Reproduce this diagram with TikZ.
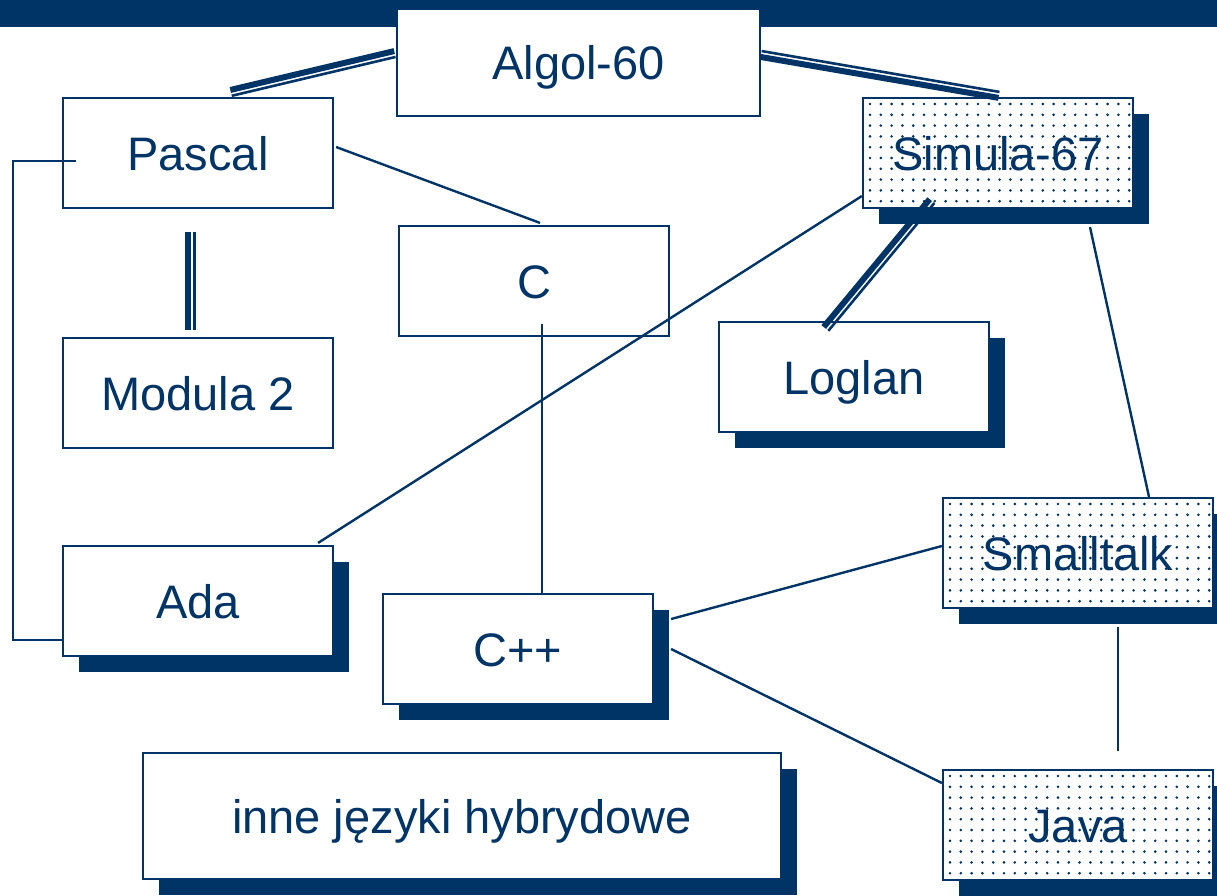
\documentclass[tikz,border=0pt]{standalone}
\usepackage{fontspec}
\setmainfont{Liberation Sans}
\usetikzlibrary{calc,shadows}
\definecolor{navy}{HTML}{003366}

% double connector: heavy rule on one side, light rule on the other
% #1,#2 end points, #3 signed offset of the heavy rule (positive = left of #1->#2)
\newcommand{\twinlink}[3]{%
  \draw[heavyrule] ($(#1)!#3!90:(#2)$) -- ($(#2)!#3!-90:(#1)$);
  \draw[lightrule] ($(#1)!-#3!90:(#2)$) -- ($(#2)!-#3!-90:(#1)$);
}

\begin{document}
\begin{tikzpicture}[x=1pt,y=-1pt,
  box/.style={draw=navy, line width=2.2pt, fill=white,
    minimum width=270pt, minimum height=110pt, inner sep=0pt,
    text=navy, font=\fontsize{47}{56}\selectfont,
    text height=34pt, text depth=0pt},
  castshadow/.style={drop shadow={shadow xshift=16pt, shadow yshift=-16pt,
    fill=navy, opacity=1}},
  dotgrid/.style={path picture={
    \foreach \i in {0,...,24}{\foreach \j in {0,...,9}{
      \fill[navy] ($(path picture bounding box.north west)+(7+10.8*\i,6+10.8*\j)$) circle (1.45pt);}}}},
  link/.style={draw=navy, line width=2.4pt},
  heavyrule/.style={draw=navy, line width=6pt},
  lightrule/.style={draw=navy, line width=2.6pt}]

\useasboundingbox (0,0) rectangle (1217,895);
\clip (0,0) rectangle (1217,895);

% title band
\fill[navy] (0,0) rectangle (1217,27);

% language boxes
\node[box, minimum width=363pt, minimum height=107pt] (algol) at (578.5,62.5) {Algol-60};
\node[box] (pascal) at (198,153) {Pascal};
\node[box] (c) at (534,281) {C};
\node[box] (modula) at (198,393) {Modula 2};
\node[box, castshadow, dotgrid] (simula) at (998,153) {Simula-67};
\node[box, castshadow] (loglan) at (854,377) {Loglan};
\node[box, castshadow] (ada) at (198,601) {Ada};
\node[box, castshadow] (cpp) at (518,649) {C++};
\node[box, castshadow, dotgrid] (smalltalk) at (1078,553) {Smalltalk};
\node[box, castshadow, dotgrid] (java) at (1078,825) {Java};
\node[box, castshadow, minimum width=638pt, minimum height=126pt] (other) at (462,816) {inne języki hybrydowe};

% end points of the double connectors
\coordinate (apP) at ($(pascal.north)+(33,-4)$);
\coordinate (apA) at ($(algol.west)+(-1,-8.5)$);
\coordinate (asA) at ($(algol.east)+(0,-8.5)$);
\coordinate (asS) at ($(simula.north)+(1,-2)$);
\coordinate (slS) at ($(simula.south)+(-66,-8)$);
\coordinate (slL) at ($(loglan.north)+(-28,8)$);
\coordinate (pmP) at ($(pascal.south)+(-7,23)$);
\coordinate (pmM) at ($(modula.north)+(-7,-7)$);

\twinlink{apP}{apA}{3pt}
\twinlink{asA}{asS}{-3pt}
\twinlink{slS}{slL}{-3pt}
\twinlink{pmP}{pmM}{-3.5pt}

% single connectors
\draw[link] ($(pascal.east)+(2,-6)$) -- ($(c.north)+(6,-2)$);
\draw[link] ($(simula.west)+(0,43)$) -- ($(ada.north east)+(-16,-2)$);
\draw[link] ($(simula.south)+(92,18)$) -- ($(smalltalk.north)+(71,0)$);
\draw[link] ($(c.south)+(8,-13)$) -- ($(cpp.north)+(24,0)$);
\draw[link] ($(smalltalk.west)+(0,-7)$) -- ($(cpp.east)+(17,-30)$);
\draw[link] ($(cpp.east)+(17,0)$) -- ($(java.west)+(0,-42)$);
\draw[link] ($(smalltalk.south)+(40,18)$) -- ($(java.north)+(40,-18)$);
\draw[link] ($(pascal.west)+(14,8)$) -- ++(-63,0) |- ($(ada.west)+(0,39)$);

\end{tikzpicture}
\end{document}
